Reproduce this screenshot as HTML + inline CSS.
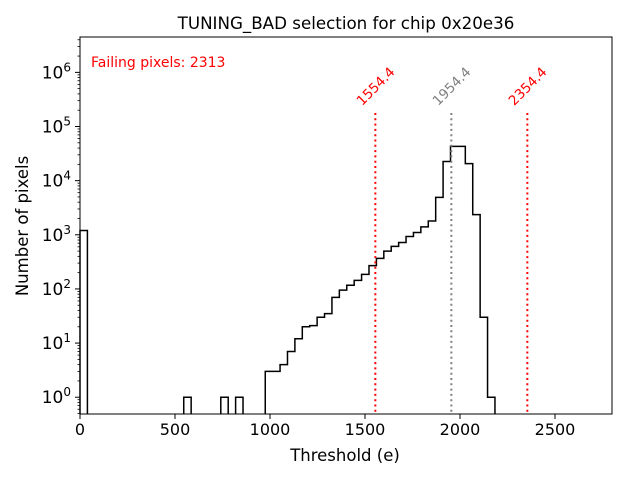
<!DOCTYPE html>
<html><head><meta charset="utf-8"><style>
body{margin:0;background:#fff;}
svg{display:block;font-family:"DejaVu Sans","Liberation Sans",sans-serif;}
</style></head><body>
<svg id="chart" width="640" height="480">
<text x="346" y="29" font-size="16.7" text-anchor="middle">TUNING_BAD selection for chip 0x20e36</text>
<text x="345" y="461" font-size="16.5" text-anchor="middle">Threshold (e)</text>
<text transform="translate(28,226) rotate(-90)" font-size="16.5" text-anchor="middle">Number of pixels</text>
<text x="91" y="67" font-size="14" fill="red">Failing pixels: 2313</text>
<g id="plot"></g>
</svg>
<script>
const binWidth = 39;
const counts = [1200,0,0,0,0,0,0,0,0,0,0,0,0,0,1,0,0,0,0,1,0,1,0,0,0,
 3,3,4,7,12,20,21,30,35,70,95,117,144,186,270,367,500,610,720,930,1100,1400,1800,4900,22600,43000,43000,20600,2360,30,1];
const xTicks = [0,500,1000,1500,2000,2500];
const yTickExps = [0,1,2,3,4,5,6];
const lineValues = [1554.4,1954.4,2354.4];
const lineColors = ["red","gray","red"];

const L=80,R=612,T=37,B=414,XMAX=2800;
const YMIN=Math.log10(0.49), YMAX=Math.log10(4.5e6);
const xs=v=>L+(v/XMAX)*(R-L);
const ys=v=>B-(Math.log10(v)-YMIN)/(YMAX-YMIN)*(B-T);
const NS="http://www.w3.org/2000/svg";
const g=document.getElementById('plot');
function mk(t,a){const e=document.createElementNS(NS,t);for(const k in a)e.setAttribute(k,a[k]);g.appendChild(e);return e;}

let d="",prev=0;
for(let i=0;i<counts.length;i++){
  const c=counts[i],x0=xs(i*binWidth),x1=xs((i+1)*binWidth);
  const yb=B;
  if(c>0){
    const y=ys(c);
    if(prev>0) d+=`L${x0},${y}`; else d+=`M${x0},${yb}L${x0},${y}`;
    d+=`L${x1},${y}`;
    const nxt=counts[i+1]||0;
    if(nxt<=0) d+=`L${x1},${yb}`;
  }
  prev=c;
}
const hist=mk('path',{d:d,fill:'none',stroke:'#000','stroke-width':1.5});



lineValues.forEach((v,i)=>{
  const x=xs(v);
  const ln=mk('line',{x1:x,x2:x,y1:113,y2:B,stroke:lineColors[i],'stroke-width':2,'stroke-dasharray':'2,3.3'});
  
  
  const t=mk('text',{x:x,y:91,'font-size':13.5,fill:lineColors[i],'text-anchor':'middle',transform:`rotate(-45 ${x} 86)`});
  t.textContent=v.toFixed(1);
  
  
});

const fr=mk('rect',{x:L,y:T,width:R-L,height:B-T,fill:'none',stroke:'#000','stroke-width':1});



xTicks.forEach(v=>{
  const x=xs(v);
  mk('line',{x1:x,x2:x,y1:B,y2:B+5,stroke:'#000'});
  const t=mk('text',{x:x,y:B+21,'font-size':16,'text-anchor':'middle'});
  t.textContent=v;
  
  
});
yTickExps.forEach(e=>{
  const y=ys(Math.pow(10,e));
  mk('line',{x1:L-5,x2:L,y1:y,y2:y,stroke:'#000'});
  const t=mk('text',{x:L-9,y:y+6,'font-size':17,'text-anchor':'end'});
  t.innerHTML='10<tspan dy="-7" font-size="12">'+e+'</tspan>';
  
  
});
for(let e=-1;e<=6;e++){for(let m=2;m<=9;m++){
  const v=m*Math.pow(10,e); const y=ys(v);
  if(y<T||y>B) continue;
  mk('line',{x1:L-2.5,x2:L,y1:y,y2:y,stroke:'#000','stroke-width':0.8});
}}
</script>
</body></html>
